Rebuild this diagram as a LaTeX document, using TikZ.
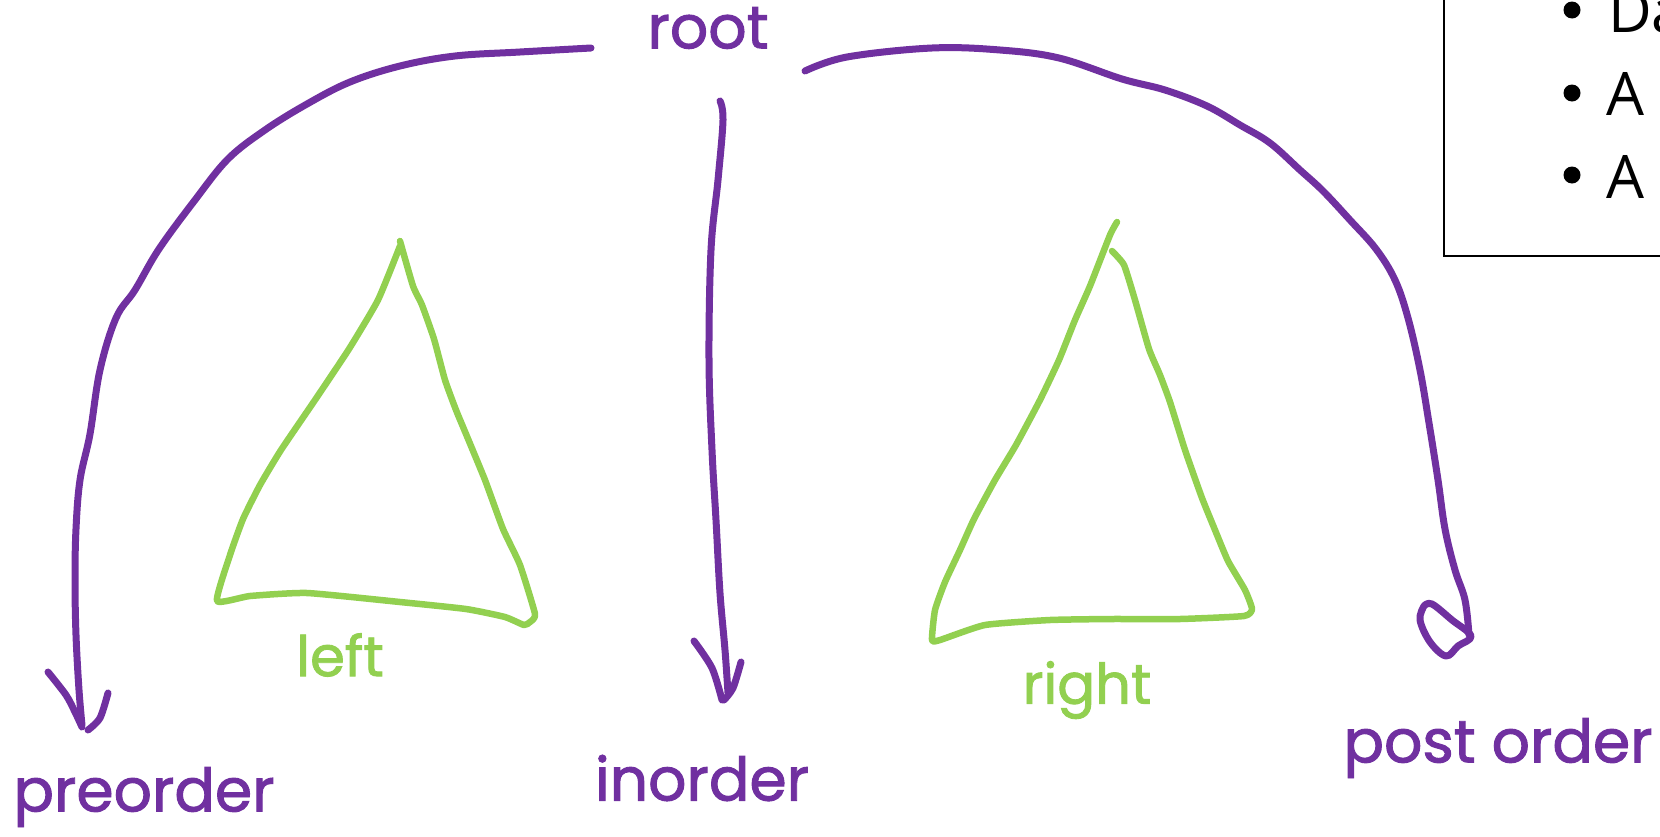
\documentclass[tikz,border=0pt]{standalone}
\usepackage{fontspec}
\setmainfont{Open Sans}
\newfontfamily\handfont[FakeBold=1.6]{Poppins}
\definecolor{penpurple}{RGB}{112,48,160}
\definecolor{pengreen}{RGB}{146,208,80}
\begin{document}
\begin{tikzpicture}[x=1pt,y=-1pt,
  purpleink/.style={draw=penpurple,line width=7pt,line cap=round,line join=round},
  greenink/.style={draw=pengreen,line width=6.5pt,line cap=round,line join=round},
  purplelabel/.style={text=penpurple,font=\handfont\fontsize{60}{64}\selectfont,inner sep=0pt},
  greenlabel/.style={text=pengreen,font=\handfont\fontsize{56}{60}\selectfont,inner sep=0pt},
  boxtext/.style={font=\fontsize{60}{66}\selectfont,anchor=base west,inner sep=0pt}]
\useasboundingbox (0,0) rectangle (1660,836);
\clip (0,0) rectangle (1660,836);
% labels
\node[purplelabel] (root) at (708,28) {root};
\node[purplelabel] (pre) at (144,797) {preorder};
\node[purplelabel] (in) at (702,778) {inorder};
\node[purplelabel] (post) at (1498,748) {post order};
\node[greenlabel] (left) at (340,655) {left};
\node[greenlabel] (right) at (1087,690) {right};
% info box
\draw[line width=2.5pt] (1444,-10) -- (1444,256) -- (1680,256);
\fill (1572,10) circle (8.5);
\fill (1572,93) circle (8.5);
\fill (1572,175) circle (8.5);
\node[boxtext] (b1) at (1608,32) {Da};
\node[boxtext] (b2) at (1606,115) {A};
\node[boxtext] (b3) at (1606,198) {A};
% preorder arrow
\draw[purpleink] plot[smooth,tension=0.6] coordinates {(591,48) (520,52) (455,56) (400,66) (350,82) (307,104) (265,130) (228,159) (195,200) (159,249) (135,290) (116,318) (100,370) (90,434) (80,480) (76,529) (75,580) (76,635) (79,690) (82,725)};
\draw[purpleink] plot[smooth] coordinates {(48,672) (66,695) (75,712) (82,727)};
\draw[purpleink] plot[smooth] coordinates {(108,693) (100,718) (88,730)};
% inorder arrow
\draw[purpleink] plot[smooth,tension=0.6] coordinates {(720,101) (723,120) (718,180) (711,250) (709,360) (712,450) (716,520) (720,593) (725,650) (728,693)};
\draw[purpleink] plot[smooth] coordinates {(694,641) (712,668) (722,700)};
\draw[purpleink] plot[smooth] coordinates {(741,662) (733,688) (724,700)};
% postorder arrow
\draw[purpleink] plot[smooth,tension=0.6] coordinates {(805,71) (847,57) (932,48) (1000,50) (1059,58) (1122,79) (1165,90) (1207,106) (1240,125) (1270,143) (1300,170) (1323,191) (1350,220) (1376,249) (1395,280) (1408,318) (1420,370) (1429,423) (1438,480) (1445,529) (1455,570) (1465,600) (1469,635)};
\draw[purpleink] plot[smooth,tension=0.6] coordinates {(1424,606) (1420,620) (1430,642) (1446,656) (1458,646) (1471,636) (1452,620) (1432,604) (1424,606)};
% left subtree
\draw[greenink] plot[smooth,tension=0.3] coordinates {(400,241) (413,286) (422,305) (434,339) (445,380) (456,410) (466,434) (485,480) (503,529) (520,565) (535,614) (530,622) (524,625) (505,617) (466,609) (400,602) (307,593) (250,596) (217,601) (230,555) (243,519) (260,485) (281,450) (315,400) (349,349) (378,300) (400,246)};
% right subtree
\draw[greenink] plot[smooth,tension=0.3] coordinates {(1117,222) (1110,235) (1090,286) (1075,320) (1059,360) (1040,400) (1016,445) (995,480) (974,519) (960,550) (945,582) (935,610) (932,640) (940,640) (985,625) (1050,620) (1112,619) (1180,619) (1244,616) (1252,609) (1245,590) (1228,561) (1215,530) (1202,498) (1185,450) (1170,402) (1160,375) (1149,349) (1135,300) (1124,265) (1112,251)};
\end{tikzpicture}
\end{document}
